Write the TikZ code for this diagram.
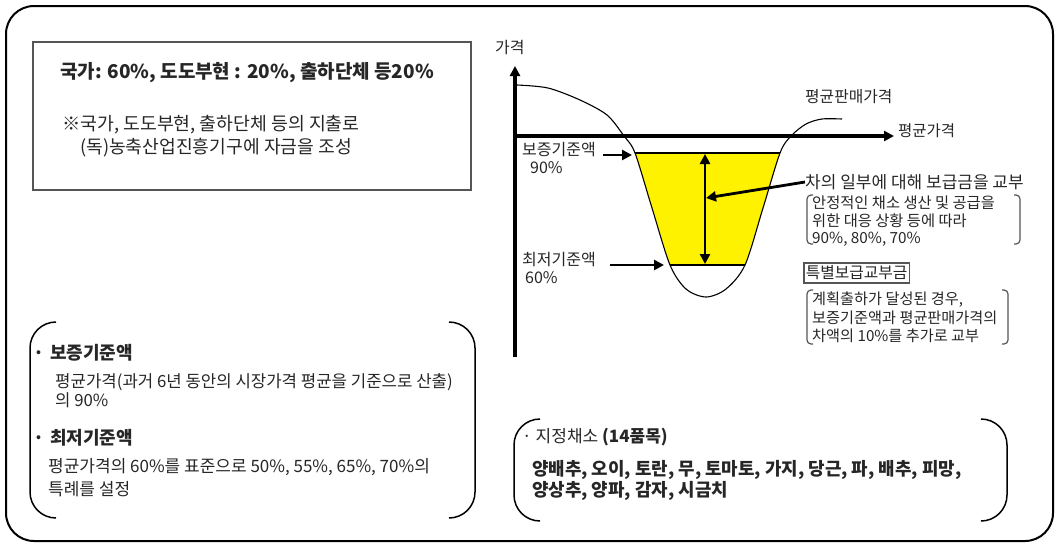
\documentclass[tikz,border=0pt]{standalone}
\usepackage{fontspec}
\setmainfont{Noto Sans CJK KR}
\usetikzlibrary{arrows.meta, positioning}
\definecolor{boxgray}{HTML}{555555}
\definecolor{txtgray}{HTML}{262626}

\begin{document}
\begin{tikzpicture}[x=1pt, y=-1pt, >={Triangle[length=10pt, width=10pt]},
  lbl/.style={inner sep=0pt, anchor=west, text=txtgray},
  axis/.style={line width=3.5pt, ->},
  arr/.style={line width=2.8pt, ->},
  brk/.style={line width=1.2pt, draw=boxgray, rounded corners=4pt},
  pbrk/.style={line width=1.5pt, rounded corners=26pt}]
  \useasboundingbox (0,0) rectangle (1059,547);
  \draw[line width=2pt, rounded corners=28pt] (6,6) rectangle (1053,541);

  % funding box
  \draw[line width=2.5pt, draw=boxgray] (33,42) rectangle (471,190);
  \node[lbl, font=\fontsize{19}{21}\selectfont\bfseries] (share) at (60,73)
    {국가: 60\%, 도도부현 : 20\%, 출하단체 등20\%};
  \node[lbl, font=\fontsize{18.3}{20}\selectfont] (note1) at (62,125)
    {※국가, 도도부현, 출하단체 등의 지출로};
  \node[lbl, font=\fontsize{18.2}{20}\selectfont] (note2) at (80,148)
    {(독)농축산업진흥기구에 자금을 조성};

  % axes
  \coordinate (O) at (515,136);
  \coordinate (ytop) at (515,66);
  \coordinate (ybot) at (515,357);
  \coordinate (xend) at (894,136);
  \draw[axis] (ybot) -- (ytop);
  \draw[axis] (O) -- (xend);
  \node[lbl, font=\fontsize{16}{18}\selectfont] (ylab) at (495,47) {가격};
  \node[lbl, font=\fontsize{15.5}{17}\selectfont] (xlab) at (898,131) {평균가격};

  % yellow band between 90% and 60%
  \fill[yellow] (635,153) -- (780,153) -- (745,265) -- (670,265) -- cycle;
  \draw[line width=1.2pt] (635,153) -- (780,153);
  \draw[line width=1.2pt] (670,265) -- (745,265);
  \draw[line width=1.1pt] plot[smooth, tension=0.5] coordinates {(517,85) (548,88)
    (580,100) (607,115) (624,136) (635,153) (652,208) (670,265) (686,289)
    (706,297) (726,289) (745,265) (763,208) (780,153) (791,136) (806,124)
    (822,119) (842,119)};
  \node[lbl, font=\fontsize{15.8}{17}\selectfont] (avgsale) at (805,97) {평균판매가격};

  % levels
  \node[lbl, font=\fontsize{16}{18}\selectfont] (guar) at (522,150) {보증기준액};
  \node[lbl, font=\fontsize{16}{18}\selectfont] (guarp) at (530,168) {90\%};
  \node[lbl, font=\fontsize{16}{18}\selectfont] (low) at (522,260) {최저기준액};
  \node[lbl, font=\fontsize{16}{18}\selectfont] (lowp) at (525,278) {60\%};
  \coordinate (g1) at (603,155);
  \coordinate (g2) at (632,155);
  \coordinate (l1) at (610,265);
  \coordinate (l2) at (664,265);
  \draw[arr] (g1) -- (g2);
  \draw[arr] (l1) -- (l2);
  \coordinate (top90) at (705,154);
  \coordinate (bot60) at (705,264);
  \coordinate (gap) at (706,198);
  \draw[arr, <->] (bot60) -- (top90);

  % subsidy notes
  \node[lbl, font=\fontsize{17}{19}\selectfont] (diff) at (805,182) {차의 일부에 대해 보급금을 교부};
  \draw[arr] (diff.west) -- (gap);
  \node[lbl, font=\fontsize{15.3}{17}\selectfont] (r1) at (812,203) {안정적인 채소 생산 및 공급을};
  \node[lbl, font=\fontsize{15.3}{17}\selectfont] (r2) at (812,221) {위한 대응 상황 등에 따라};
  \node[lbl, font=\fontsize{15.3}{17}\selectfont] (r3) at (812,239) {90\%, 80\%, 70\%};
  \draw[brk] (813,195) -- (807,195) -- (807,244) -- (813,244);
  \draw[brk] (1014,195) -- (1020,195) -- (1020,244) -- (1014,244);
  \node[draw=boxgray, line width=1.5pt, inner xsep=2pt, inner ysep=3pt, text=txtgray,
    font=\fontsize{15.8}{18}\selectfont, anchor=west] (special) at (803,273) {특별보급교부금};
  \node[lbl, font=\fontsize{15.2}{17}\selectfont] (s1) at (812,300) {계획출하가 달성된 경우,};
  \node[lbl, font=\fontsize{15.2}{17}\selectfont] (s2) at (812,318) {보증기준액과 평균판매가격의};
  \node[lbl, font=\fontsize{15.2}{17}\selectfont] (s3) at (812,336) {차액의 10\%를 추가로 교부};
  \draw[brk] (813,290) -- (807,290) -- (807,344) -- (813,344);
  \draw[brk] (1002,290) -- (1008,290) -- (1008,344) -- (1002,344);

  % base amounts
  \draw[pbrk] (56,322) -- (30,322) -- (30,518) -- (56,518);
  \draw[pbrk] (449,322) -- (475,322) -- (475,518) -- (449,518);
  \node[lbl, font=\fontsize{18}{20}\selectfont\bfseries] (b1) at (33,353) {·\hspace{6pt}보증기준액};
  \node[lbl, font=\fontsize{16.75}{19}\selectfont] (b1a) at (55,382) {평균가격(과거 6년 동안의 시장가격 평균을 기준으로 산출)};
  \node[lbl, font=\fontsize{16.75}{19}\selectfont] (b1b) at (55,400) {의 90\%};
  \node[lbl, font=\fontsize{18}{20}\selectfont\bfseries] (b2) at (33,438) {·\hspace{6pt}최저기준액};
  \node[lbl, font=\fontsize{17}{19}\selectfont] (b2a) at (48,467) {평균가격의 60\%를 표준으로 50\%, 55\%, 65\%, 70\%의};
  \node[lbl, font=\fontsize{17}{19}\selectfont] (b2b) at (48,489) {특례를 설정};

  % vegetables
  \draw[pbrk] (540,419) -- (514,419) -- (514,521) -- (540,521);
  \draw[pbrk] (981,419) -- (1007,419) -- (1007,521) -- (981,521);
  \node[lbl, font=\fontsize{17}{19}\selectfont] (veg) at (522,437) {·\hspace{4pt}지정채소 \textbf{(14품목)}};
  \node[lbl, font=\fontsize{17.9}{20}\selectfont\bfseries] (veg1) at (532,470)
    {양배추, 오이, 토란, 무, 토마토, 가지, 당근, 파, 배추, 피망,};
  \node[lbl, font=\fontsize{17.9}{20}\selectfont\bfseries] (veg2) at (532,491)
    {양상추, 양파, 감자, 시금치};
\end{tikzpicture}
\end{document}
